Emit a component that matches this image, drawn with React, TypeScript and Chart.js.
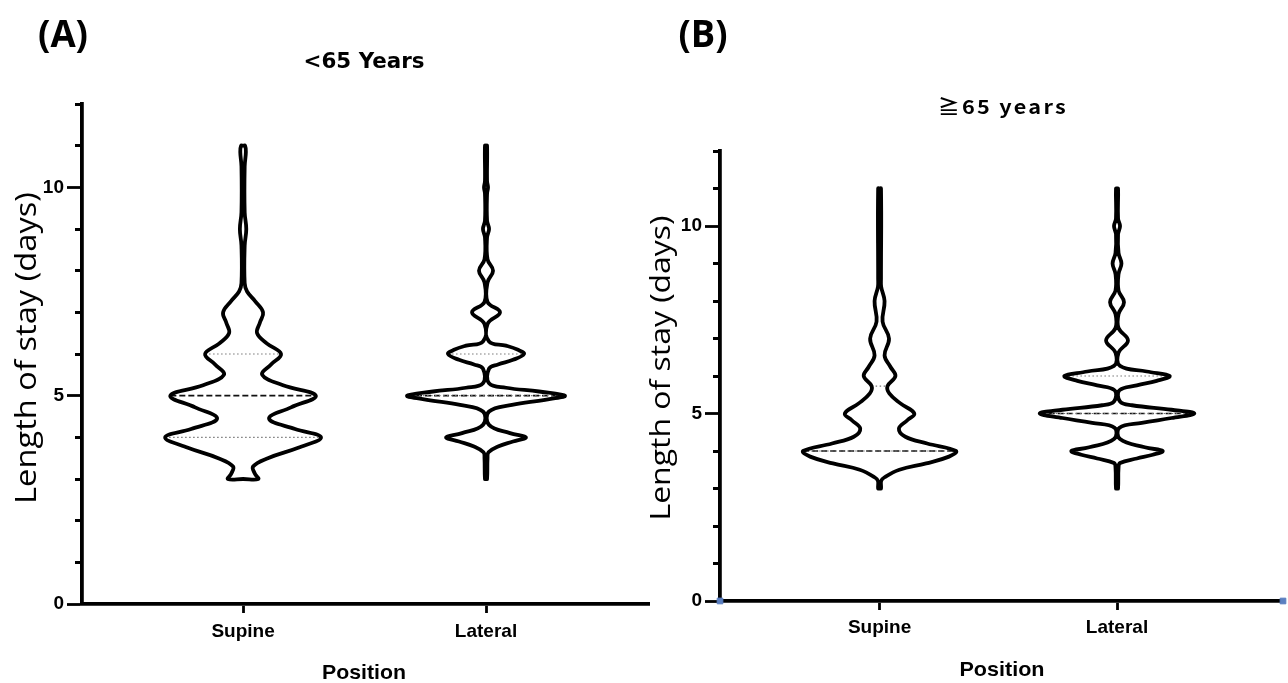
import React, { useEffect, useRef } from "react";
import { Chart, registerables } from "chart.js";

Chart.register(...registerables);

// ---------------- data ----------------
const categories = ["Supine", "Lateral"];
const labelledYTicks = [0, 5, 10];
const yAxisMax = 12;

const panelLabels = ["(A)", "(B)"];
const panelTitles = ["<65 Years", "≧65 years"];
const yAxisTitle = "Length of stay (days)";
const xAxisTitle = "Position";

// Violin outlines: length-of-stay level (days) and relative density (1 = widest)
const under65SupineLevels = [3.0, 3.12, 3.3, 3.5, 3.75, 4.0, 4.2, 4.45, 4.72, 5.0, 5.25, 5.5, 5.75, 6.0, 6.25, 6.5, 6.75, 7.0, 7.27, 7.5, 7.7, 8.6, 9.0, 9.4, 10.5, 10.85, 11.0];
const under65SupineDensity = [0.19, 0.15, 0.125, 0.31, 0.69, 0.975, 0.65, 0.325, 0.6, 0.91, 0.5, 0.24, 0.35, 0.475, 0.3, 0.175, 0.21, 0.25, 0.15, 0.05, 0.02, 0.02, 0.04, 0.02, 0.02, 0.035, 0.025];

const under65LateralLevels = [3.0, 3.5, 3.64, 3.78, 3.9, 4.0, 4.1, 4.3, 4.62, 4.78, 4.9, 5.0, 5.1, 5.19, 5.3, 5.65, 5.75, 5.86, 6.0, 6.1, 6.2, 6.3, 6.72, 7.0, 7.25, 7.72, 8.0, 8.27, 8.8, 9.0, 9.2, 9.85, 10.0, 10.15, 11.0];
const under65LateralDensity = [0.013, 0.019, 0.031, 0.15, 0.338, 0.5, 0.3, 0.038, 0.038, 0.325, 0.738, 0.988, 0.663, 0.25, 0.038, 0.038, 0.15, 0.338, 0.475, 0.4, 0.25, 0.038, 0.019, 0.175, 0.019, 0.019, 0.088, 0.019, 0.013, 0.038, 0.013, 0.013, 0.025, 0.013, 0.013];

const over65SupineLevels = [3.0, 3.2, 3.3, 3.5, 3.67, 3.85, 4.0, 4.2, 4.38, 4.6, 4.82, 5.0, 5.27, 5.53, 5.73, 6.0, 6.24, 6.55, 7.0, 7.45, 8.0, 8.38, 8.6, 11.0];
const over65SupineDensity = [0.018, 0.02, 0.063, 0.25, 0.588, 0.875, 0.963, 0.6, 0.325, 0.244, 0.35, 0.438, 0.263, 0.125, 0.1, 0.2, 0.138, 0.063, 0.119, 0.038, 0.063, 0.02, 0.018, 0.018];

const over65LateralLevels = [3.0, 3.55, 3.68, 3.8, 3.9, 4.0, 4.1, 4.32, 4.62, 4.75, 4.88, 5.0, 5.1, 5.22, 5.32, 5.62, 5.75, 5.87, 6.0, 6.12, 6.27, 6.62, 6.95, 7.28, 7.65, 7.97, 8.28, 8.72, 9.0, 9.28, 9.78, 10.0, 10.2, 11.0];
const over65LateralDensity = [0.013, 0.019, 0.038, 0.25, 0.45, 0.575, 0.35, 0.038, 0.031, 0.313, 0.688, 0.975, 0.688, 0.188, 0.038, 0.031, 0.25, 0.5, 0.663, 0.375, 0.038, 0.019, 0.138, 0.019, 0.019, 0.088, 0.019, 0.019, 0.056, 0.019, 0.013, 0.038, 0.013, 0.013];

// Quartiles [Q1, median, Q3]
const under65SupineQuartiles = [4, 5, 6];
const under65LateralQuartiles = [5, 5, 6];
const over65SupineQuartiles = [4, 4, 5.73];
const over65LateralQuartiles = [5, 5, 6];

// ---------------- helpers ----------------
function densityAt(levels: number[], density: number[], q: number) {
  for (let i = 0; i < levels.length - 1; i++) {
    if (q >= levels[i] && q <= levels[i + 1]) {
      const t = (q - levels[i]) / (levels[i + 1] - levels[i]);
      return density[i] + t * (density[i + 1] - density[i]);
    }
  }
  return 0;
}

function violinDatasets(center: number, levels: number[], density: number[], quartiles: number[], k: number) {
  const pts: { x: number; y: number }[] = [];
  const n = levels.length;
  pts.push({ x: center, y: levels[0] });
  for (let i = 0; i < n; i++) pts.push({ x: center + density[i] * k, y: levels[i] });
  pts.push({ x: center, y: levels[n - 1] });
  for (let i = n - 1; i >= 0; i--) pts.push({ x: center - density[i] * k, y: levels[i] });
  pts.push({ x: center, y: levels[0] });
  const outline = {
    data: pts,
    borderColor: "#000",
    borderWidth: 3.8,
    tension: 0.4,
    pointRadius: 0,
    fill: false,
    borderJoinStyle: "round",
    borderCapStyle: "round",
  };
  const lines = quartiles.map((q, i) => {
    const w = densityAt(levels, density, q) * k;
    const isMedian = i === 1;
    return {
      data: [
        { x: center - w, y: q },
        { x: center + w, y: q },
      ],
      borderColor: isMedian ? "#111" : "#777",
      borderWidth: isMedian ? 1.6 : 1.2,
      borderDash: isMedian ? [6, 3] : [1.5, 2.5],
      tension: 0,
      pointRadius: 0,
      fill: false,
    };
  });
  return { outline, lines };
}

const panelTextPlugin = {
  id: "panelText",
  afterDraw(chart: any, _args: any, opts: any) {
    const ctx = chart.ctx as CanvasRenderingContext2D;
    (opts.items || []).forEach((t: any) => {
      ctx.save();
      ctx.font = t.font;
      ctx.fillStyle = "#000";
      ctx.textAlign = "center";
      ctx.textBaseline = "middle";
      if (t.spacing) (ctx as any).letterSpacing = t.spacing;
      ctx.translate(t.x, t.y);
      if (t.rotate) ctx.rotate(t.rotate);
      if (t.width) {
        const w = ctx.measureText(t.text).width;
        if (w > 0) ctx.scale(t.width / w, 1);
      }
      ctx.fillText(t.text, 0, 0);
      ctx.restore();
    });
  },
};

const CANVAS_H = 683;
const tickFont = { family: '"Liberation Sans", Arial, sans-serif', weight: "bold" as const, size: 19 };

type PanelCfg = {
  left: number;
  width: number;
  areaLeft: number;
  areaTop: number;
  areaBottom: number;
  xMin: number;
  xMax: number;
  k: number;
  xTickPad: number;
  violins: { levels: number[]; density: number[]; quartiles: number[] }[];
  handles: boolean;
  texts: any[];
};

function buildConfig(cfg: PanelCfg): any {
  const outlines: any[] = [];
  const lines: any[] = [];
  cfg.violins.forEach((v, i) => {
    const d = violinDatasets(i + 1, v.levels, v.density, v.quartiles, cfg.k);
    outlines.push(d.outline);
    lines.push(...d.lines);
  });
  const datasets: any[] = [...outlines, ...lines];
  if (cfg.handles) {
    datasets.push({
      data: [
        { x: cfg.xMin, y: 0 },
        { x: cfg.xMax, y: 0 },
      ],
      showLine: false,
      pointStyle: "rect",
      pointRadius: 4,
      pointBackgroundColor: "#5b7fc0",
      pointBorderColor: "#5b7fc0",
      clip: false,
    });
  }
  return {
    type: "line",
    data: { datasets },
    options: {
      responsive: false,
      animation: false,
      layout: { padding: { top: cfg.areaTop, left: 0, right: 0, bottom: 0 } },
      plugins: {
        legend: { display: false },
        tooltip: { enabled: false },
        panelText: { items: cfg.texts },
      },
      scales: {
        x: {
          type: "linear",
          min: cfg.xMin,
          max: cfg.xMax,
          afterBuildTicks: (s: any) => {
            s.ticks = categories.map((_, i) => ({ value: i + 1 }));
          },
          afterFit: (s: any) => {
            s.height = CANVAS_H - cfg.areaBottom;
          },
          ticks: {
            callback: (v: any) => categories[Math.round(v) - 1] ?? "",
            font: tickFont,
            color: "#000",
            padding: cfg.xTickPad,
            maxRotation: 0,
            autoSkip: false,
          },
          grid: { display: true, drawOnChartArea: false, drawTicks: true, tickLength: 9, tickWidth: 2.8, tickColor: "#000" },
          border: { display: true, color: "#000", width: 3.8 },
        },
        y: {
          type: "linear",
          min: 0,
          max: yAxisMax,
          afterFit: (s: any) => {
            s.width = cfg.areaLeft;
          },
          ticks: {
            stepSize: 1,
            maxTicksLimit: 20,
            callback: (v: any) => (labelledYTicks.includes(v) ? String(v) : ""),
            font: tickFont,
            color: "#000",
            padding: 3,
            autoSkip: false,
          },
          grid: {
            display: true,
            drawOnChartArea: false,
            drawTicks: true,
            tickLength: 15,
            tickWidth: 2.8,
            tickColor: "#000",
            tickBorderDash: (c: any) => (c.tick && labelledYTicks.includes(c.tick.value) ? [] : [0, 8, 7, 100]),
          },
          border: { display: true, color: "#000", width: 3.8 },
        },
      },
    },
    plugins: [panelTextPlugin],
  };
}

const panelA: PanelCfg = {
  left: 0,
  width: 650,
  areaLeft: 82,
  areaTop: 104,
  areaBottom: 604,
  xMin: 0.337,
  xMax: 2.675,
  k: 0.329,
  xTickPad: 7,
  violins: [
    { levels: under65SupineLevels, density: under65SupineDensity, quartiles: under65SupineQuartiles },
    { levels: under65LateralLevels, density: under65LateralDensity, quartiles: under65LateralQuartiles },
  ],
  handles: false,
  texts: [
    { text: panelLabels[0], x: 63, y: 36, font: '700 37px "Open Sans"', width: 50 },
    { text: panelTitles[0], x: 364, y: 63, font: 'bold 21px "DejaVu Sans"', width: 121 },
    { text: yAxisTitle, x: 28, y: 348, font: '500 29px "Open Sans"', rotate: -Math.PI / 2, width: 312 },
    { text: xAxisTitle, x: 364, y: 673, font: 'bold 21px "Liberation Sans"', width: 84 },
  ],
};

const panelB: PanelCfg = {
  left: 640,
  width: 648,
  areaLeft: 80,
  areaTop: 151,
  areaBottom: 601,
  xMin: 0.328,
  xMax: 2.699,
  k: 0.334,
  xTickPad: 6,
  violins: [
    { levels: over65SupineLevels, density: over65SupineDensity, quartiles: over65SupineQuartiles },
    { levels: over65LateralLevels, density: over65LateralDensity, quartiles: over65LateralQuartiles },
  ],
  handles: true,
  texts: [
    { text: panelLabels[1], x: 63, y: 36, font: '700 37px "Open Sans"', width: 49 },
    { text: panelTitles[1], x: 363, y: 107, font: 'bold 19px "Noto Sans CJK JP"', spacing: "2px", width: 130 },
    { text: yAxisTitle, x: 22, y: 368, font: '500 28px "Open Sans"', rotate: -Math.PI / 2, width: 305 },
    { text: xAxisTitle, x: 362, y: 670, font: 'bold 21px "Liberation Sans"', width: 85 },
  ],
};

function Panel({ cfg }: { cfg: PanelCfg }) {
  const ref = useRef<HTMLCanvasElement>(null);
  useEffect(() => {
    if (!ref.current) return;
    const chart = new Chart(ref.current, buildConfig(cfg));
    return () => chart.destroy();
  }, [cfg]);
  return (
    <canvas
      ref={ref}
      width={cfg.width}
      height={CANVAS_H}
      style={{ position: "absolute", left: cfg.left, top: 0, width: cfg.width, height: CANVAS_H }}
    />
  );
}

export default function App() {
  return (
    <div style={{ position: "absolute", left: 0, top: 0, width: 1288, height: CANVAS_H, background: "#fff", overflow: "hidden" }}>
      <Panel cfg={panelA} />
      <Panel cfg={panelB} />
    </div>
  );
}
